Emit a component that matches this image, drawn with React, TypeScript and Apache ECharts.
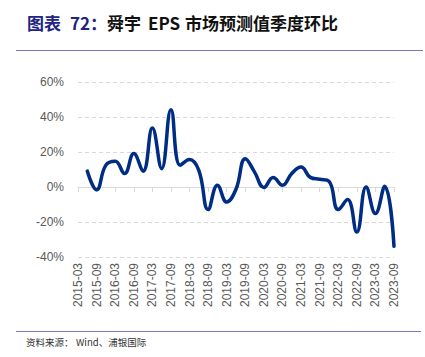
import React, { useEffect, useRef } from "react";
import * as echarts from "echarts";

const categories = [
  "2015-03", "2015-06", "2015-09", "2015-12",
  "2016-03", "2016-06", "2016-09", "2016-12",
  "2017-03", "2017-06", "2017-09", "2017-12",
  "2018-03", "2018-06", "2018-09", "2018-12",
  "2019-03", "2019-06", "2019-09", "2019-12",
  "2020-03", "2020-06", "2020-09", "2020-12",
  "2021-03", "2021-06", "2021-09", "2021-12",
  "2022-03", "2022-06", "2022-09", "2022-12",
  "2023-03", "2023-06", "2023-09",
];

const qoqValues: (number | null)[] = [
  null, 9.1, -1.6, 12.5, 14.7, 7.7, 19.1, 9.0,
  33.7, 10.5, 44.2, 12.4, 15.7, 9.5, -12.9, 1.0,
  -8.6, -1.3, 16.2, 8.5, -0.3, 5.4, 1.0, 7.7,
  11.4, 5.5, 4.4, 3.3, -12.9, -7.2, -25.7, 0,
  -15.2, 0.4, -33.9,
];

const yTicks = { min: -40, max: 60, interval: 20 };

const titleParts = [
  { text: "图表", x: 27, color: "#232383" },
  { text: "72：", x: 70, color: "#232383" },
  { text: "舜宇", x: 107, color: "#111111" },
  { text: "EPS", x: 148, color: "#111111" },
  { text: "市场预测值季度环比", x: 185, color: "#111111" },
];

const sourceParts = [
  { text: "资料来源：", x: 26 },
  { text: "Wind、浦银国际", x: 76 },
];

export default function App() {
  const ref = useRef<HTMLDivElement>(null);
  useEffect(() => {
    if (!ref.current) return;
    const chart = echarts.init(ref.current, null, { renderer: "svg" });
    const font = "'Liberation Sans', Arial, sans-serif";
    const cjk = "'Noto Sans CJK SC', 'Noto Sans', sans-serif";
    const graphics: any[] = [];
    titleParts.forEach((p) => {
      graphics.push({
        type: "text",
        x: p.x,
        y: 22,
        style: {
          text: p.text,
          fill: p.color,
          font: `bold 17px ${cjk}`,
          textVerticalAlign: "middle",
          textAlign: "left",
        },
      });
    });
    graphics.push({
      type: "line",
      shape: { x1: 16, y1: 50.5, x2: 423, y2: 50.5 },
      style: { stroke: "#7b78bb", lineWidth: 1 },
    });
    graphics.push({
      type: "line",
      shape: { x1: 16, y1: 331.5, x2: 421, y2: 331.5 },
      style: { stroke: "#7b78bb", lineWidth: 1 },
    });
    sourceParts.forEach((p) => {
      graphics.push({
        type: "text",
        x: p.x,
        y: 342,
        style: {
          text: p.text,
          fill: "#333333",
          font: `9.5px ${cjk}`,
          textVerticalAlign: "middle",
          textAlign: "left",
        },
      });
    });

    chart.setOption({
      animation: false,
      backgroundColor: "#ffffff",
      grid: { left: 78, right: 31, top: 82, bottom: 100 },
      xAxis: [
        {
          type: "category",
          data: categories,
          boundaryGap: false,
          position: "bottom",
          axisLine: { show: false, onZero: false },
          axisTick: { show: false },
          axisLabel: {
            rotate: 90,
            interval: 1,
            margin: 6,
            padding: [8, 0, 0, 0],
            color: "#595959",
            fontSize: 12,
            fontFamily: font,
          },
          splitLine: { show: false },
        },
        {
          type: "category",
          data: categories,
          boundaryGap: false,
          position: "top",
          axisLine: { show: true, onZero: true, lineStyle: { color: "#d9d9d9", width: 1 } },
          axisTick: { show: true, inside: true, length: 5, interval: 1, lineStyle: { color: "#d9d9d9" } },
          axisLabel: { show: false },
          splitLine: { show: false },
        },
      ],
      yAxis: {
        type: "value",
        min: yTicks.min,
        max: yTicks.max,
        interval: yTicks.interval,
        axisLine: { show: false },
        axisTick: { show: false },
        axisLabel: {
          formatter: "{value}%",
          color: "#595959",
          fontSize: 12,
          fontFamily: font,
          margin: 14,
        },
        splitLine: {
          show: true,
          lineStyle: { color: "#d9d9d9", type: [4, 3], width: 1 },
        },
      },
      series: [
        {
          type: "line",
          xAxisIndex: 0,
          data: qoqValues,
          smooth: 0.45,
          showSymbol: false,
          lineStyle: { color: "#002d84", width: 3.5, cap: "round", join: "round" },
          z: 5,
        },
      ],
      graphic: graphics,
    });
    return () => chart.dispose();
  }, []);
  return (
    <div
      ref={ref}
      style={{ position: "fixed", left: 0, top: 0, width: 425, height: 357, background: "#fff" }}
    />
  );
}
